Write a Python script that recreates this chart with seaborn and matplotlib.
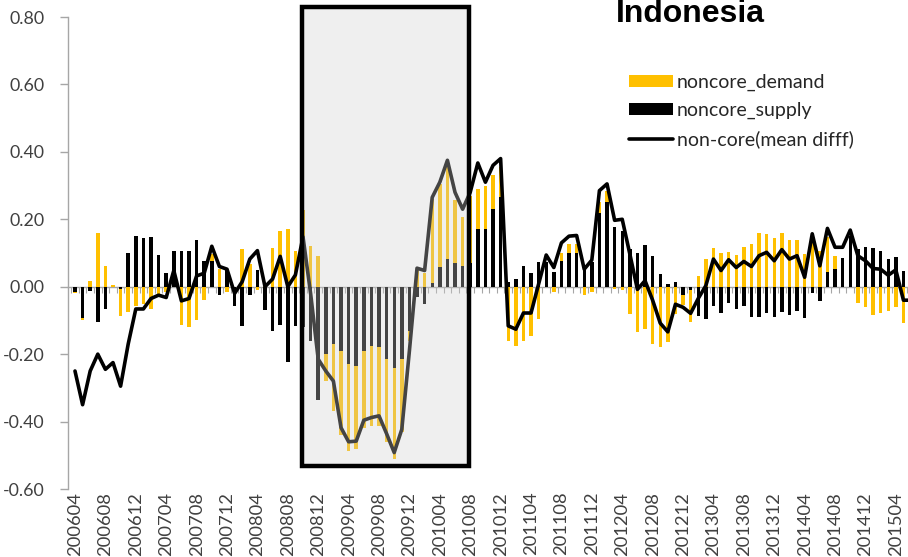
import numpy as np
import pandas as pd
import matplotlib
matplotlib.use("Agg")
import matplotlib.pyplot as plt
import seaborn as sns
from matplotlib.patches import Rectangle, Patch
from matplotlib.lines import Line2D

# ---------------- data ----------------
months = pd.period_range("2006-04", "2015-06", freq="M").strftime("%Y%m").tolist()

noncore_supply = [
    -0.015, -0.094, -0.012, -0.106, -0.066, 0.0, -0.007, 0.10, 0.15, 0.144,
    0.146, 0.094, 0.04, 0.107, 0.105, 0.105, 0.139, 0.075, 0.077, -0.024,
    0.05, -0.058, -0.118, -0.024, 0.05, -0.07, -0.13, -0.114, -0.222, -0.118,
    -0.12, -0.16, -0.337, -0.2, -0.17, -0.19, -0.23, -0.235, -0.19, -0.175,
    -0.178, -0.215, -0.24, -0.215, -0.13, -0.03, -0.05, 0.01, 0.057, 0.082,
    0.07, 0.06, 0.07, 0.17, 0.17, 0.23, 0.265, 0.013, 0.023, 0.06,
    0.04, 0.072, 0.072, 0.043, 0.075, 0.10, 0.10, 0.052, 0.072, 0.22,
    0.25, 0.178, 0.164, 0.112, 0.10, 0.125, 0.092, 0.038, 0.008, 0.013,
    -0.025, -0.01, -0.086, -0.096, -0.056, -0.078, -0.049, -0.066, -0.058, -0.089,
    -0.089, -0.079, -0.091, -0.074, -0.083, -0.073, -0.094, -0.02, -0.042, 0.043,
    0.054, 0.085, 0.15, 0.112, 0.119, 0.115, 0.105, 0.082, 0.089, 0.048,
    0.0,
]
noncore_demand = [
    -0.005, -0.005, 0.018, 0.16, 0.06, 0.005, -0.08, -0.076, -0.056, -0.05,
    -0.066, -0.022, -0.017, 0.0, -0.114, -0.12, -0.10, -0.04, 0.02, 0.052,
    -0.017, 0.0, 0.112, 0.067, -0.01, 0.01, 0.115, 0.164, 0.17, 0.107,
    0.228, 0.12, 0.092, -0.08, -0.2, -0.25, -0.257, -0.245, -0.23, -0.238,
    -0.235, -0.245, -0.272, -0.215, -0.03, 0.05, 0.04, 0.25, 0.248, 0.283,
    0.186, 0.146, 0.2, 0.12, 0.13, 0.10, 0.09, -0.16, -0.175, -0.16,
    -0.145, -0.096, 0.0, -0.017, 0.025, 0.027, 0.028, -0.024, -0.017, 0.03,
    0.035, -0.007, -0.01, -0.08, -0.133, -0.126, -0.17, -0.18, -0.165, -0.08,
    -0.03, -0.095, 0.033, 0.082, 0.115, 0.10, 0.104, 0.095, 0.119, 0.127,
    0.16, 0.155, 0.144, 0.16, 0.139, 0.14, 0.097, 0.14, 0.107, 0.104,
    0.038, 0.0, 0.0, -0.047, -0.061, -0.083, -0.079, -0.073, -0.061, -0.109,
    0.0,
]
noncore_mean_diff = [
    -0.25, -0.35, -0.25, -0.20, -0.245, -0.225, -0.295, -0.17, -0.066, -0.066,
    -0.035, -0.025, -0.032, 0.048, -0.042, -0.035, 0.032, 0.04, 0.12, 0.06,
    0.052, -0.02, 0.015, 0.082, 0.107, 0.0, 0.023, 0.09, 0.0, 0.035,
    0.148, -0.02, -0.215, -0.25, -0.28, -0.418, -0.46, -0.458, -0.396, -0.388,
    -0.383, -0.436, -0.492, -0.423, -0.19, 0.055, 0.048, 0.265, 0.31, 0.375,
    0.28, 0.23, 0.28, 0.367, 0.31, 0.36, 0.38, -0.116, -0.126, -0.078,
    -0.078, 0.008, 0.094, 0.057, 0.13, 0.15, 0.152, 0.052, 0.079, 0.285,
    0.305, 0.197, 0.2, 0.097, -0.008, 0.018, -0.04, -0.108, -0.134, -0.052,
    -0.061, -0.079, -0.035, 0.003, 0.082, 0.048, 0.08, 0.057, 0.075, 0.06,
    0.092, 0.102, 0.077, 0.11, 0.082, 0.092, 0.028, 0.157, 0.062, 0.173,
    0.117, 0.117, 0.168, 0.092, 0.077, 0.054, 0.052, 0.034, 0.05, -0.04,
    -0.04,
]
tick_labels = months[::4]
series_labels = ["noncore_demand", "noncore_supply", "non-core(mean difff)"]
title = "Indonesia"
highlight_period = ("200810", "201008")

# ---------------- styling ----------------
ORANGE = "#FFC000"
BLACK = "#000000"
GRAY = "#A6A6A6"
TEXT = "#404040"

sns.set_theme(style="white")
plt.rcParams["font.family"] = ["Lato", "DejaVu Sans"]

n = len(months)
df = pd.DataFrame({
    "i": np.arange(n),
    "supply": noncore_supply,
    "demand": noncore_demand,
    "mean_diff": noncore_mean_diff,
})
# stacked look: demand stacks on top of supply when both have the same sign
same = np.sign(df["supply"]) == np.sign(df["demand"])
df["demand_top"] = np.where(same, df["supply"] + df["demand"], df["demand"])

fig = plt.figure(figsize=(9.08, 5.57), dpi=100)
ax = fig.add_axes([68 / 908, 1 - 489 / 557, 840 / 908, (489 - 17) / 557])

sns.barplot(data=df, x="i", y="demand_top", native_scale=True, color=ORANGE,
            saturation=1, width=0.45, errorbar=None, linewidth=0, ax=ax)
sns.barplot(data=df, x="i", y="supply", native_scale=True, color=BLACK,
            saturation=1, width=0.45, errorbar=None, linewidth=0, ax=ax)
sns.lineplot(data=df, x="i", y="mean_diff", color=BLACK, linewidth=2.6,
             ax=ax, legend=False, zorder=4)

ax.set_xlim(-0.92, 109.6)
ax.set_ylim(-0.6, 0.8)
ax.set_xlabel("")
ax.set_ylabel("")

# x labels at the bottom
ax.set_xticks(np.arange(0, n, 4))
ax.set_xticklabels(tick_labels, rotation=90)
ax.tick_params(axis="x", bottom=False, length=0, pad=2, labelsize=13.2,
               labelcolor=TEXT)
# y axis
yt = np.round(np.arange(-0.6, 0.81, 0.2), 2)
ax.set_yticks(yt)
ax.set_yticklabels([f"{v:.2f}" for v in yt])
ax.tick_params(axis="y", left=True, length=6, width=1, color=GRAY, pad=11,
               labelsize=12.8, labelcolor=TEXT)
for s in ["top", "right", "bottom"]:
    ax.spines[s].set_visible(False)
ax.spines["left"].set_color(GRAY)
ax.spines["left"].set_linewidth(1)

# horizontal category axis at zero with monthly tick marks
sec = ax.secondary_xaxis(0, transform=ax.transData)
sec.set_ticks(np.arange(-0.5, n, 1))
sec.tick_params(bottom=True, length=4, width=0.8, color=GRAY, labelbottom=False,
                direction="out")
sec.spines["bottom"].set_color(GRAY)
sec.spines["bottom"].set_linewidth(1)

# highlighted crisis window
x0 = months.index(highlight_period[0]) - 0.13
x1 = months.index(highlight_period[1]) - 0.16
y0, y1 = -0.532, 0.829
ax.add_patch(Rectangle((x0, y0), x1 - x0, y1 - y0, facecolor="#d0d0d0",
                       alpha=0.33, edgecolor="none", zorder=6, clip_on=False))
ax.add_patch(Rectangle((x0, y0), x1 - x0, y1 - y0, fill=False,
                       edgecolor=BLACK, linewidth=3.2, zorder=7, clip_on=False))

# legend
handles = [Patch(facecolor=ORANGE, edgecolor="none"),
           Patch(facecolor=BLACK, edgecolor="none"),
           Line2D([], [], color=BLACK, linewidth=2.6)]
fig.legend(handles, series_labels, loc="upper left",
           bbox_to_anchor=(629 / 908, 1 - 74 / 557), frameon=False,
           fontsize=14, handlelength=2.25, handleheight=0.55,
           handletextpad=0.2, labelspacing=0.56, borderpad=0,
           borderaxespad=0, labelcolor="#262626")

fig.text(690 / 908, 1 - 22 / 557, title, ha="center", va="baseline",
         fontsize=23, fontweight="bold", family=["Liberation Sans", "DejaVu Sans"],
         color="black")

fig.savefig("out.png", dpi=100)
